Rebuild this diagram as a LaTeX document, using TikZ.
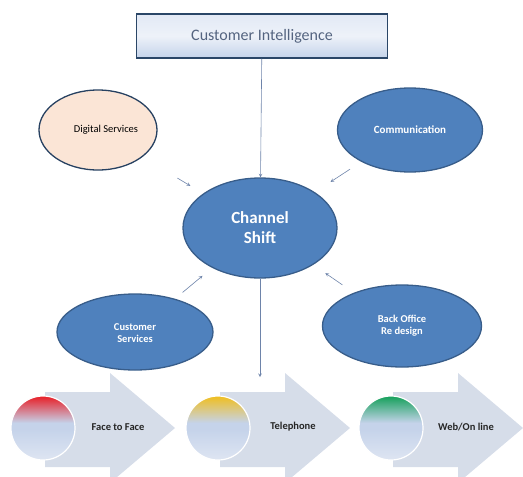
\documentclass[tikz,border=0pt]{standalone}
\usepackage{fontspec}
\setmainfont{Carlito}
\usetikzlibrary{shapes.geometric,calc}

\definecolor{cblue}{RGB}{79,129,189}
\definecolor{cedge}{RGB}{56,93,138}
\definecolor{cpeach}{RGB}{251,229,214}
\definecolor{cline}{RGB}{110,132,170}
\definecolor{cboxtxt}{RGB}{84,100,128}
\definecolor{cboxtop}{RGB}{226,233,245}
\definecolor{cboxbot}{RGB}{196,211,234}
\definecolor{cchev}{RGB}{214,221,233}
\definecolor{ballbot}{RGB}{222,229,242}
\definecolor{ballmid}{RGB}{197,211,234}
\definecolor{ballred}{RGB}{232,30,38}
\definecolor{ballyel}{RGB}{240,190,30}
\definecolor{ballgrn}{RGB}{20,160,90}

% one vertical shading per ball colour
\newcommand\ballshade[2]{%
  \pgfdeclareverticalshading{#1}{100bp}{color(0bp)=(ballbot); color(25bp)=(ballbot);
    color(49bp)=(ballmid); color(54bp)=(ballmid); color(75bp)=(#2); color(100bp)=(#2)}}
\ballshade{shred}{ballred}
\ballshade{shyel}{ballyel}
\ballshade{shgrn}{ballgrn}

\begin{document}
\begin{tikzpicture}[x=1pt,y=-1pt,
    bubble/.style={ellipse,draw=cedge,line width=1.3pt,fill=cblue,inner sep=0pt,
      text=white,font=\bfseries\fontsize{10.5}{12}\selectfont,align=center},
    link/.style={->,draw=cline,line width=0.6pt,>=stealth}]
  \useasboundingbox (0,0) rectangle (523,477);
  \clip (0,0) rectangle (523,477);

  % heading box
  \node[draw=cedge!75!black,line width=1.5pt,minimum width=251pt,minimum height=44pt,
    top color=cboxtop,bottom color=cboxbot,middle color=cboxtop!60!white,
    text=cboxtxt,font=\fontsize{16}{18}\selectfont] (ci) at (262,36) {Customer Intelligence};

  % ellipses round the centre
  \node[bubble,minimum width=154pt,minimum height=100pt,font=\bfseries\fontsize{17}{20}\selectfont]
    (ch) at (260,228) {Channel\\Shift};
  \node[bubble,fill=cpeach,draw=cedge!70!black,text=black,font=\fontsize{10.5}{12}\selectfont,
    minimum width=118pt,minimum height=80pt] (dig) at (98,130) {\hspace*{16pt}Digital Services};
  \node[bubble,minimum width=145pt,minimum height=84pt,font=\bfseries\fontsize{11}{13}\selectfont]
    (com) at (410,130) {Communication};
  \node[bubble,minimum width=156pt,minimum height=76pt] (cus) at (135,332) {\\[-2pt]Customer\\Services};
  \node[bubble,minimum width=159pt,minimum height=82pt] (bo) at (402,326) {Back Office\\Re design};

  % chevrons with balls along the bottom
  \foreach \x/\lbl/\sh [count=\i] in {45/Face to Face/shred, 220/Telephone/shyel, 393/Web\slash On line/shgrn}{
    \fill[cchev] (\x,392) -- (\x+65,392) -- (\x+65,373) -- (\x+130,428)
      -- (\x+65,483) -- (\x+65,467) -- (\x,467) -- cycle;
    \node[circle,minimum size=64pt,inner sep=0pt,shading=\sh,draw=white,line width=1.2pt]
      (ball\i) at (\x-2,428) {};
    \node[font=\bfseries\fontsize{10.5}{12}\selectfont,text=black!85] (lab\i) at (\x+73,427) {\lbl};
  }
  \coordinate (telin) at (260,377);

  % connectors
  \draw[link] (ci) -- (ch);
  \draw[link] (ch) -- (telin);
  \draw[link] ($(dig)!0.49!(ch)$) -- ($(dig)!0.57!(ch)$);
  \draw[link] ($(com)!0.40!(ch)$) -- ($(com)!0.53!(ch)$);
  \draw[link] ($(cus)!0.38!(ch)$) -- ($(cus)!0.54!(ch)$);
  \draw[link] ($(bo)!0.42!(ch)$) -- ($(bo)!0.54!(ch)$);
\end{tikzpicture}
\end{document}
